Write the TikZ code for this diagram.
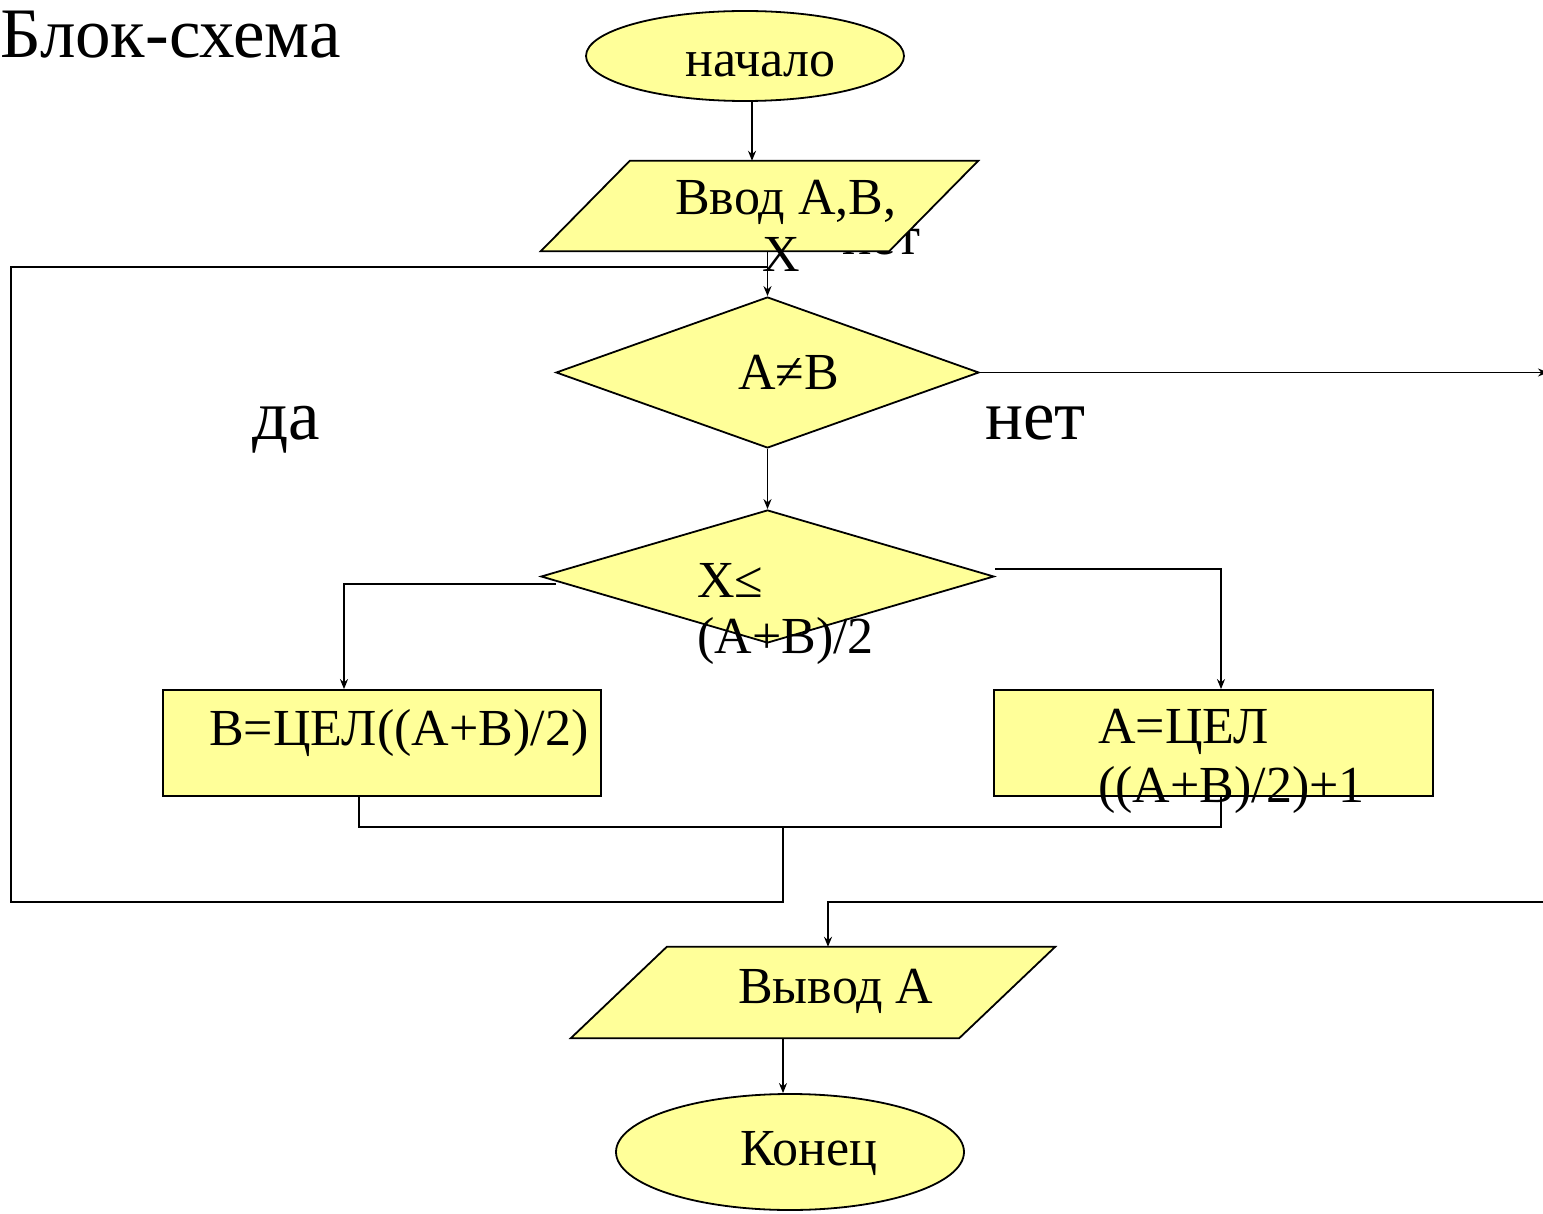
\documentclass[tikz,border=0pt]{standalone}
\usepackage{fontspec}
\setmainfont{Liberation Serif}
\usetikzlibrary{shapes.geometric,arrows.meta}
\definecolor{fillyel}{RGB}{255,255,153}
\tikzset{
  shp/.style={draw=black, line width=1.8pt, fill=fillyel, inner sep=0pt},
  oval/.style={shp, ellipse},
  frame/.style={inner sep=0pt, rectangle},
  para/.style={draw=black, line width=1.8pt, fill=fillyel, line join=miter},
  cond/.style={shp, diamond},
  proc/.style={shp, rectangle},
  conn/.style={line width=1.6pt, black},
  arr/.style={conn, -{Stealth[length=10pt,width=8pt]}},
  txt/.style={anchor=base west, inner sep=0pt, font=\fontsize{52}{59}\selectfont},
  big/.style={anchor=base west, inner sep=0pt, font=\fontsize{71}{80}\selectfont}
}
\begin{document}
\begin{tikzpicture}[x=1pt,y=-1pt]
\useasboundingbox (0,0) rectangle (1543,1214);
% title
\node[anchor=base west, inner sep=0pt, font=\fontsize{71}{80}\selectfont] (title) at (0,58) {Блок-схема};
% hidden label behind input box
\node[anchor=base west, inner sep=0pt, font=\fontsize{55}{62}\selectfont] (hid) at (842,255) {нет};
% shapes
\node[oval, minimum width=318pt, minimum height=90pt] (start) at (745,56) {};
\node[frame, minimum width=437pt, minimum height=90pt] (inp) at (759.5,206) {};
\draw[para] ([xshift=89pt]inp.north west) -- (inp.north east) -- ([xshift=-89pt]inp.south east) -- (inp.south west) -- cycle;
\node[cond, minimum width=423pt, minimum height=151pt] (d1) at (767.5,372.5) {};
\node[cond, minimum width=453pt, minimum height=133pt] (d2) at (767.5,576.5) {};
\node[proc, minimum width=438pt, minimum height=106pt] (lbox) at (382,743) {};
\node[proc, minimum width=439pt, minimum height=106pt] (rbox) at (1213.5,743) {};
\node[frame, minimum width=484pt, minimum height=91pt] (out) at (813,992.5) {};
\draw[para] ([xshift=96pt]out.north west) -- (out.north east) -- ([xshift=-96pt]out.south east) -- (out.south west) -- cycle;
\node[oval, minimum width=348pt, minimum height=116pt] (fin) at (790,1152) {};
% junction coordinates
\coordinate (sa) at (752,101);
\coordinate (j1) at (767.5,267);
\coordinate (lt) at (11,267);
\coordinate (lb) at (11,902);
\coordinate (mj) at (783,827);
\coordinate (mb) at (783,902);
\coordinate (re) at (1548,373);
\coordinate (rb) at (1543,902);
\coordinate (oc) at (828,902);
\coordinate (dl) at (556,584);
\coordinate (lc) at (344,584);
\coordinate (dr) at (995,569);
\coordinate (rc) at (1221,569);
\coordinate (lbb) at (359,796);
\coordinate (rbb) at (1221,796);
\coordinate (oa) at (783,1038);
% connectors
\draw[arr] (sa) -- (sa |- inp.north);
\draw[arr] (d1.north |- inp.south) -- (d1.north);
\draw[conn] (mj) -- (mb) -- (lb) -- (lt) -- (j1);
\draw[arr] (d1.east) -- (d1.east -| re);
\draw[arr] (rb) -- (oc) -- (oc |- out.north);
\draw[arr] (d1.south) -- (d2.north);
\draw[arr] (dl) -- (lc) -- (lc |- lbox.north);
\draw[arr] (dr) -- (rc) -- (rc |- rbox.north);
\draw[conn] (lbb) -- (lbb |- mj) -- (rbb |- mj) -- (rbb);
\draw[arr] (oa) -- (oa |- fin.north);
% texts
\node[txt] (t1) at (685,77) {начало};
\node[txt] (t2) at (675,215) {Ввод А,В,};
\node[txt] (t3) at (762,272) {X};
\node[txt] (t4) at (738,390) {А≠В};
\node[big] (t5) at (252,440) {да};
\node[big] (t6) at (985,440) {нет};
\node[txt] (t7) at (697,597) {X≤};
\node[txt] (t8) at (697,653) {(A+B)/2};
\node[txt] (t9) at (209,745) {B=ЦЕЛ((A+B)/2)};
\node[txt] (t10) at (1098,743) {A=ЦЕЛ};
\node[txt] (t11) at (1098,802) {((A+B)/2)+1};
\node[txt] (t12) at (738,1003) {Вывод А};
\node[txt] (t13) at (740,1165) {Конец};
\end{tikzpicture}
\end{document}
